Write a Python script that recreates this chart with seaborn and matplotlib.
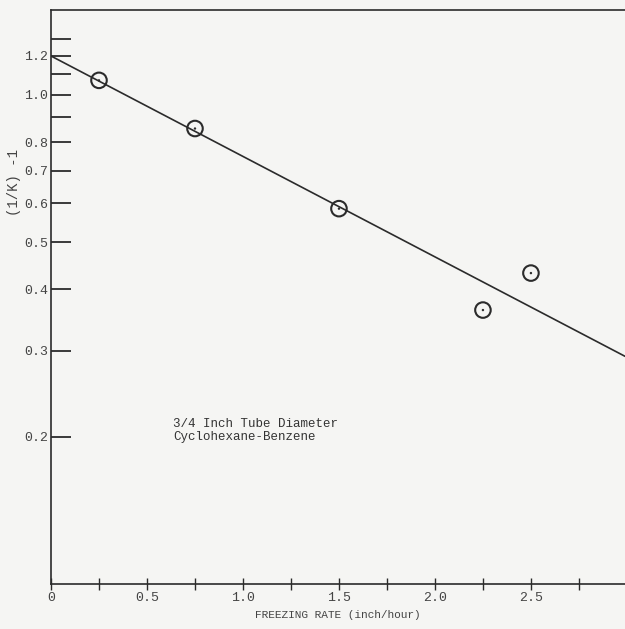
import matplotlib
matplotlib.use("Agg")
import matplotlib.pyplot as plt
import seaborn as sns
import pandas as pd
import numpy as np

# Data
freezing_rate = [0.25, 0.75, 1.5, 2.25, 2.5]
k_value = [1.07, 0.853, 0.585, 0.363, 0.432]
fit_x = [0.0, 2.99]
fit_y = [1.2, 0.292]

x_ticks = [0, 0.25, 0.5, 0.75, 1.0, 1.25, 1.5, 1.75, 2.0, 2.25, 2.5, 2.75]
x_labels = ["0", "", "0.5", "", "1.0", "", "1.5", "", "2.0", "", "2.5", ""]
y_ticks = [0.2, 0.3, 0.4, 0.5, 0.6, 0.7, 0.8, 0.9, 1.0, 1.1, 1.2, 1.3]
y_labels = ["0.2", "0.3", "0.4", "0.5", "0.6", "0.7", "0.8", "", "1.0", "", "1.2", ""]

sns.set_style("white")
plt.rcParams["font.family"] = ["Liberation Mono", "DejaVu Sans Mono"]

ink = "#2b2b2b"
bg = "#f5f5f3"

fig = plt.figure(figsize=(6.25, 6.29), dpi=100, facecolor=bg)
ax = fig.add_axes([51 / 625, 45 / 629, (625 - 51) / 625, 574 / 629])
ax.set_facecolor(bg)

pts = pd.DataFrame({"x": freezing_rate, "y": k_value})
fit = pd.DataFrame({"x": fit_x, "y": fit_y})

sns.lineplot(data=fit, x="x", y="y", ax=ax, color=ink, linewidth=1.2)
sns.scatterplot(data=pts, x="x", y="y", ax=ax, s=125, facecolor="none",
                edgecolor=ink, linewidth=1.5, zorder=3)
sns.scatterplot(data=pts, x="x", y="y", ax=ax, s=3, color=ink,
                edgecolor="none", zorder=4)

ax.set_yscale("log")
ax.set_xlim(0, 2.99)
ax.set_ylim(0.1, 1.49)

ax.set_xticks(x_ticks)
ax.set_xticklabels(x_labels)
ax.set_yticks(y_ticks)
ax.set_yticklabels(y_labels)
ax.yaxis.set_minor_locator(matplotlib.ticker.NullLocator())
ax.xaxis.set_minor_locator(matplotlib.ticker.NullLocator())

ax.tick_params(axis="x", bottom=True, direction="inout", length=9, width=1.0,
               color=ink, labelsize=9.5, labelcolor="#444444", pad=1)
ax.tick_params(axis="y", left=True, direction="in", length=14.5, width=1.3,
               color=ink, labelsize=9.5, labelcolor="#444444", pad=2)

for side in ["left", "bottom", "top"]:
    ax.spines[side].set_color(ink)
    ax.spines[side].set_linewidth(1.2)
ax.spines["right"].set_visible(False)

ax.set_xlabel("FREEZING RATE (inch/hour)", fontsize=8, color="#444444")
ax.xaxis.set_label_coords(0.5, -0.045)
ax.set_ylabel("(1/K) -1", fontsize=10, color="#444444")
ax.yaxis.set_label_coords(-0.052, 0.70)

ax.text(0.635, 0.206, "3/4 Inch Tube Diameter\nCyclohexane-Benzene",
        fontsize=9, color="#333333", va="center", ha="left", linespacing=1.15)

fig.savefig("out.png", dpi=100, facecolor=bg)
